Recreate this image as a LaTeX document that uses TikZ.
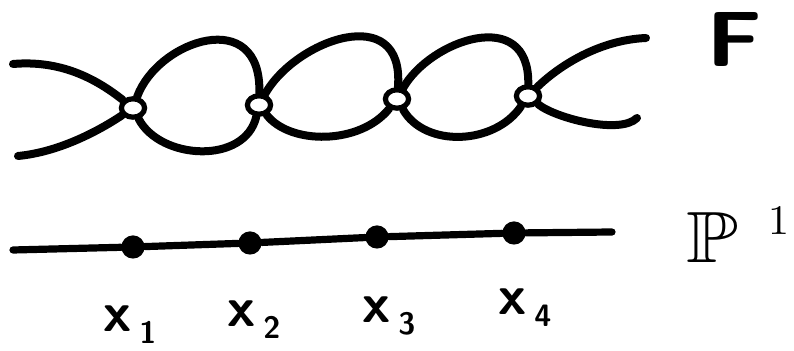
\RequirePackage{fix-cm}
\documentclass[tikz,border=0pt]{standalone}
\usepackage{amsmath, amssymb}
\usepackage{tikz}
\usepackage{xcolor}
\usetikzlibrary{
  positioning, shapes.geometric, backgrounds,
}
\definecolor{cInk}{HTML}{000000}
\newcommand{\xlab}[1]{x\kern0.14em\raisebox{-0.2em}{\fontsize{22}{22}\selectfont #1}}

\begin{document}
\begin{tikzpicture}[x=0.25mm, y=-0.25mm,
    strand/.style={draw=cInk, line width=2mm, line cap=round},
    branch/.style={ellipse, draw=cInk, fill=white, line width=1.3mm,
      minimum width=5.8mm, minimum height=4.6mm, inner sep=0pt},
    ptdot/.style={circle, fill=cInk, minimum size=5.8mm, inner sep=0pt},
    lab/.style={font=\sffamily\bfseries\fontsize{40}{40}\selectfont,
      text=cInk, inner sep=0pt, anchor=base west}]
  \useasboundingbox (0,0) rectangle (794,351);

  \node[branch] (b1) at (133,108) {};
  \node[branch] (b2) at (259,105) {};
  \node[branch] (b3) at (397,99) {};
  \node[branch] (b4) at (528,96) {};
  \coordinate (tl) at (13,64);
  \coordinate (bl) at (18,156);
  \coordinate (tr) at (646,38);
  \coordinate (br) at (637,118);

  \begin{scope}[on background layer]
    \draw[strand] (tl) .. controls (60,60) and (95,78) .. (b1);
    \draw[strand] (bl) .. controls (60,152) and (100,130) .. (b1);
    \draw[strand] (b1) .. controls (158,40) and (262,5) .. (b2);
    \draw[strand] (b1) .. controls (160,160) and (245,165) .. (b2);
    \draw[strand] (b2) .. controls (295,40) and (405,0) .. (b3);
    \draw[strand] (b2) .. controls (290,145) and (360,145) .. (b3);
    \draw[strand] (b3) .. controls (430,40) and (530,5) .. (b4);
    \draw[strand] (b3) .. controls (425,148) and (495,145) .. (b4);
    \draw[strand] (b4) .. controls (560,65) and (600,40) .. (tr);
    \draw[strand] (b4) .. controls (555,118) and (620,135) .. (br);
  \end{scope}

  \node[text=cInk, inner sep=0pt, anchor=base west] (F) at (706,67)
        {\resizebox{14mm}{13.5mm}{\sffamily\bfseries F}};

  \node[ptdot] (p1) at (133,247) {};
  \node[ptdot] (p2) at (250,243) {};
  \node[ptdot] (p3) at (377,237) {};
  \node[ptdot] (p4) at (514,233) {};
  \coordinate (pl) at (13,250);
  \coordinate (pr) at (612,232);
  \draw[cInk, line width=1.8mm, line cap=round] (pl) -- (p1) -- (p2) -- (p3) -- (p4) -- (pr);

  \node[text=cInk, inner sep=0pt, anchor=base west] (P1) at (686,263)
        {\resizebox{13mm}{12.5mm}{$\mathbb{P}$}\kern7.5mm\raisebox{7mm}{\resizebox{!}{7mm}{1}}};

  \node[lab] (x1) at (103,332) {\xlab{1}};
  \node[lab] (x2) at (227,327) {\xlab{2}};
  \node[lab] (x3) at (362,323) {\xlab{3}};
  \node[lab] (x4) at (498,315) {\xlab{4}};
\end{tikzpicture}
\end{document}
